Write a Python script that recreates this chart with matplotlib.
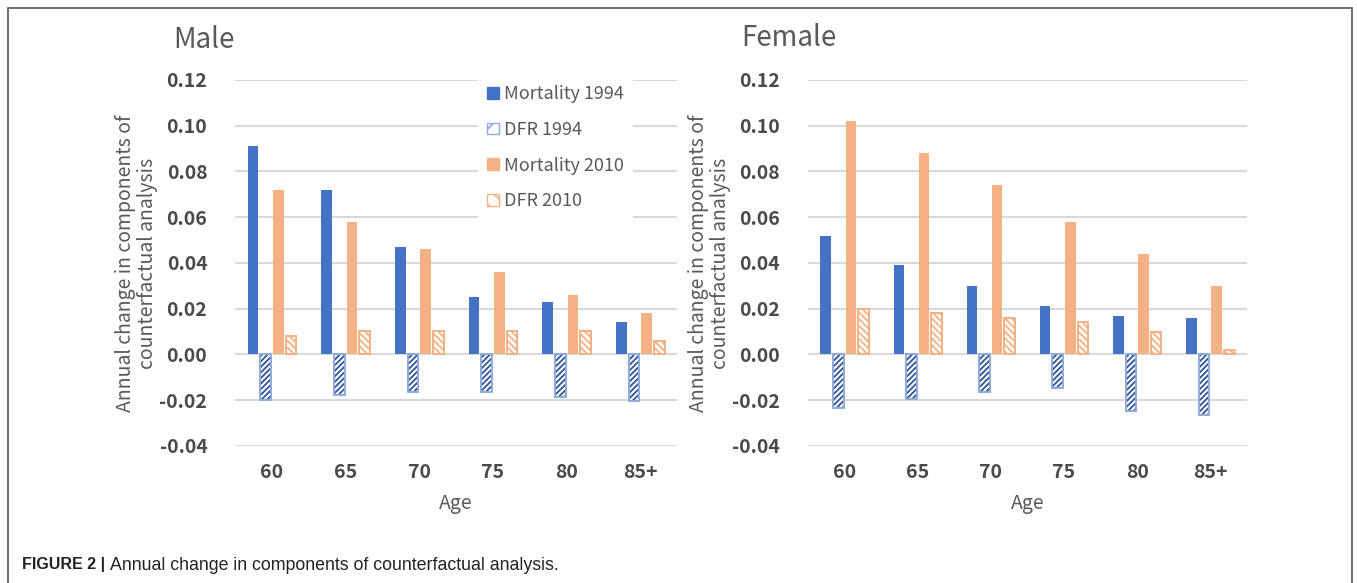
import matplotlib
matplotlib.use('Agg')
import matplotlib.pyplot as plt
from matplotlib.patches import Rectangle, Patch
import numpy as np

plt.rcParams['font.family'] = ['Noto Sans CJK SC', 'DejaVu Sans']
plt.rcParams['hatch.linewidth'] = 1.3

ages = ['60', '65', '70', '75', '80', '85+']
series_names = ['Mortality 1994', 'DFR 1994', 'Mortality 2010', 'DFR 2010']

male_mort_1994 = [0.091, 0.072, 0.047, 0.025, 0.023, 0.014]
male_dfr_1994 = [-0.020, -0.0175, -0.0165, -0.0165, -0.0187, -0.0204]
male_mort_2010 = [0.072, 0.058, 0.046, 0.036, 0.026, 0.018]
male_dfr_2010 = [0.0082, 0.0102, 0.0102, 0.0102, 0.0102, 0.0061]

female_mort_1994 = [0.052, 0.039, 0.030, 0.021, 0.017, 0.016]
female_dfr_1994 = [-0.0235, -0.0196, -0.0165, -0.0145, -0.0245, -0.0264]
female_mort_2010 = [0.102, 0.088, 0.074, 0.058, 0.044, 0.030]
female_dfr_2010 = [0.020, 0.018, 0.016, 0.014, 0.010, 0.002]

BLUE = '#4472C4'
BLUE_EDGE = '#8FAADC'
BLUE_HATCH = '#2F5597'
ORANGE = '#F4B183'
TXT = '#595959'
GRID = '#D9D9D9'


def draw_panel(ax, mort94, dfr94, mort10, dfr10):
    x = np.arange(len(ages))
    w = 0.145
    step = 0.172
    offs = [-1.5 * step, -0.5 * step, 0.5 * step, 1.5 * step]
    ax.bar(x + offs[0], mort94, w, color=BLUE, zorder=3)
    ax.bar(x + offs[1], dfr94, w, color='white', edgecolor=BLUE_HATCH, hatch='//////',
           linewidth=0, zorder=3)
    ax.bar(x + offs[1], dfr94, w, color='none', edgecolor=BLUE_EDGE, linewidth=1.4, zorder=4)
    ax.bar(x + offs[2], mort10, w, color=ORANGE, zorder=3)
    ax.bar(x + offs[3], dfr10, w, color='white', edgecolor=ORANGE, hatch='\\\\\\\\\\',
           linewidth=0, zorder=3)
    ax.bar(x + offs[3], dfr10, w, color='none', edgecolor=ORANGE, linewidth=1.4, zorder=4)

    ax.set_xlim(-0.5, len(ages) - 0.5)
    ax.set_ylim(-0.04, 0.12)
    yt = np.arange(-0.04, 0.121, 0.02)
    ax.set_yticks(yt)
    ax.set_yticklabels([f'{v:.2f}' for v in yt])
    ax.set_xticks(x)
    ax.set_xticklabels(ages)
    ax.grid(axis='y', color=GRID, linewidth=1.5, zorder=0)
    ax.set_axisbelow(True)
    for s in ax.spines.values():
        s.set_visible(False)
    ax.tick_params(length=0, labelsize=14, labelcolor='#4a4a4a', pad=20)
    ax.tick_params(axis='x', pad=12)
    for lab in ax.get_xticklabels() + ax.get_yticklabels():
        lab.set_fontweight('bold')
    ax.set_xlabel('Age', fontsize=14, color=TXT, labelpad=8)
    ax.set_ylabel('Annual change in components of\ncounterfactual analysis',
                  fontsize=14, color=TXT, labelpad=1, linespacing=1.05)


fig = plt.figure(figsize=(13.57, 5.83), dpi=100)
ax1 = fig.add_axes([0.1732, 0.235, 0.3257, 0.6278])
ax2 = fig.add_axes([0.5954, 0.235, 0.3235, 0.6278])

draw_panel(ax1, male_mort_1994, male_dfr_1994, male_mort_2010, male_dfr_2010)
draw_panel(ax2, female_mort_1994, female_dfr_1994, female_mort_2010, female_dfr_2010)

handles = [
    Patch(facecolor=BLUE, edgecolor=BLUE),
    Patch(facecolor='white', edgecolor=BLUE_EDGE, hatch='//'),
    Patch(facecolor=ORANGE, edgecolor=ORANGE),
    Patch(facecolor='white', edgecolor=ORANGE, hatch='\\\\'),
]
leg = ax1.legend(handles, series_names, loc='upper left', bbox_to_anchor=(0.53, 1.035),
                 frameon=True, facecolor='white', edgecolor='none', framealpha=1,
                 fontsize=13, labelcolor=TXT, handlelength=0.62, handleheight=0.62,
                 handletextpad=0.3, labelspacing=0.98, borderpad=0.5)
leg.set_zorder(5)

fig.text(173 / 1357, 1 - 40 / 583, 'Male', fontsize=20, color=TXT, va='center',
         ha='left', fontweight='light')
fig.text(741 / 1357, 1 - 38 / 583, 'Female', fontsize=20, color=TXT, va='center',
         ha='left', fontweight='light')

# outer frame
fig.patches.append(Rectangle((8 / 1357, -0.1), 1344 / 1357, 1.1 - 8 / 583,
                             transform=fig.transFigure, fill=False,
                             edgecolor='#555555', linewidth=1.2))

fig.text(22 / 1357, 1 - 565 / 583, 'FIGURE 2 |', fontsize=11.5, fontweight='bold',
         color='#222222', va='center', ha='left', family='Liberation Sans')
fig.text(110 / 1357, 1 - 565 / 583, 'Annual change in components of counterfactual analysis.',
         fontsize=12.8, color='#222222', va='center', ha='left', family='Liberation Sans')

fig.savefig('out.png', dpi=100)
